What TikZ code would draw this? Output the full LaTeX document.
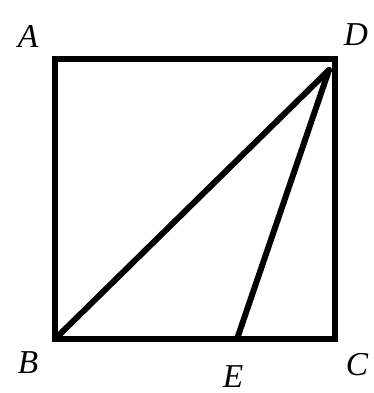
\documentclass[tikz,border=0pt]{standalone}
\usepackage{amsmath}
\usepackage{amssymb}
\usepackage{fontspec}
\setmainfont{Liberation Serif}
\usetikzlibrary{positioning,calc}
\begin{document}
\begin{tikzpicture}[x=0.02cm,y=-0.02cm]
        \tikzset{
            lbl/.style={font=\fontsize{19}{22}\selectfont\itshape, inner sep=0pt},
            side/.style={black, line width=3.4pt, line join=miter, line cap=round}
        }
        \useasboundingbox (0,0) rectangle (374,393);
        \coordinate (A) at (55,59);
        \coordinate (D) at (335,59);
        \coordinate (B) at (55,339);
        \coordinate (C) at (335,339);
        \coordinate (E) at (237,339);
        \coordinate (T) at (329,70);
        \node[lbl] (LA) at (28,36) {A};
        \node[lbl] (LD) at (356,35) {D};
        \node[lbl] (LB) at (28,363) {B};
        \node[lbl] (LC) at (357,365) {C};
        \node[lbl] (LE) at (233,377) {E};
        \draw[side] (A) -- (D) -- (C) -- (B) -- cycle;
        \draw[side] (B) -- (T);
        \draw[side] (E) -- (T);
    \end{tikzpicture}
\end{document}
